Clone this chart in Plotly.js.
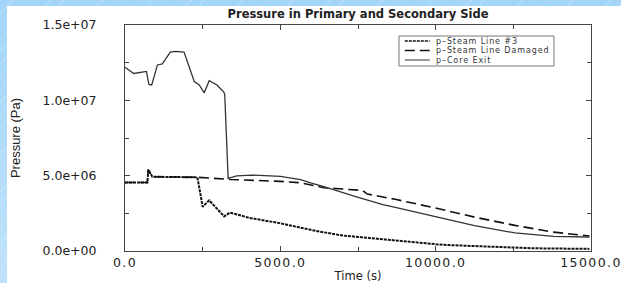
<!DOCTYPE html>
<html>
<head>
<meta charset="utf-8">
<script src="https://cdn.plot.ly/plotly-3.0.1.min.js"></script>
<style>
html, body { margin: 0; padding: 0; }
body {
  width: 621px; height: 283px; overflow: hidden;
  background: repeating-linear-gradient(135deg, rgba(255,255,255,0.18) 0px, rgba(255,255,255,0.18) 1px, rgba(255,255,255,0) 1px, rgba(255,255,255,0) 9px),
              linear-gradient(180deg, #a3d5fa 0%, #bfe2fb 100%);
}
#chart { width: 621px; height: 283px; }
.xtick text { letter-spacing: 1.4px; }
.annotation-text { letter-spacing: 0.9px; }
</style>
</head>
<body>
<div id="chart"></div>
<script>
// ---- Data ----
const seriesNames = ["p\u2013Steam Line #3", "p\u2013Steam Line Damaged", "p\u2013Core Exit"];

const tSteam3 = [0, 720, 750, 880, 2330, 2500, 2710, 3000, 3190, 3380, 4000, 4970, 6150, 7000, 8500, 10000, 10450, 12000, 13150, 14950];
const pSteam3 = [4.55e6, 4.55e6, 5.38e6, 4.93e6, 4.89e6, 2.94e6, 3.36e6, 2.7e6, 2.3e6, 2.55e6, 2.2e6, 1.85e6, 1.33e6, 1.03e6, 0.72e6, 0.45e6, 0.39e6, 0.26e6, 0.18e6, 0.14e6];

const tDamaged = [0, 720, 750, 880, 2330, 3400, 5000, 5650, 6400, 7200, 7650, 7800, 8700, 10000, 11250, 12550, 13800, 14950];
const pDamaged = [4.55e6, 4.55e6, 5.4e6, 4.93e6, 4.89e6, 4.75e6, 4.62e6, 4.53e6, 4.2e6, 4.06e6, 4.02e6, 3.78e6, 3.43e6, 2.85e6, 2.25e6, 1.7e6, 1.25e6, 1.0e6];

const tCore = [0, 280, 690, 770, 860, 1045, 1200, 1460, 1620, 1900, 2230, 2390, 2550, 2710, 2960, 3180, 3210, 3320, 3600, 4100, 5000, 5650, 6000, 6400, 7400, 8300, 8700, 10000, 10450, 11250, 12550, 13800, 14950];
const pCore = [12.2e6, 11.78e6, 11.92e6, 11.05e6, 11.02e6, 12.35e6, 12.42e6, 13.2e6, 13.25e6, 13.2e6, 11.25e6, 11.02e6, 10.5e6, 11.3e6, 11.02e6, 10.55e6, 10.4e6, 4.82e6, 4.98e6, 5.04e6, 4.95e6, 4.73e6, 4.5e6, 4.28e6, 3.62e6, 3.08e6, 2.9e6, 2.27e6, 2.05e6, 1.68e6, 1.2e6, 0.97e6, 0.93e6];

const xTickVals = [0, 5000, 10000, 15000];
const xTickText = ["0.0", "5000.0", "10000.0", "15000.0"];
const xMinorVals = [2500, 7500, 12500];
const yTickVals = [0, 5e6, 1e7, 1.5e7];
const yTickText = ["0.0e+00", "5.0e+06", "1.0e+07", "1.5e+07"];
const yMinorVals = [2.5e6, 7.5e6, 12.5e6];

// ---- Styles ----
const styles = [
  {color: "#111", width: 2.0, dash: "3px,1px"},
  {color: "#111", width: 1.6, dash: "10px,5px"},
  {color: "#333", width: 1.3, dash: "solid"}
];

const traces = [
  {x: tSteam3, y: pSteam3, name: seriesNames[0], mode: "lines", line: styles[0]},
  {x: tDamaged, y: pDamaged, name: seriesNames[1], mode: "lines", line: styles[1]},
  {x: tCore, y: pCore, name: seriesNames[2], mode: "lines", line: styles[2]}
].map(t => Object.assign(t, {showlegend: false, hoverinfo: "skip"}));

// ---- Custom compact legend (paper coordinates) ----
const legRows = [0.9292, 0.8872, 0.8451];
const shapes = [
  {type: "rect", xref: "paper", yref: "paper", x0: -0.2532, x1: 1.1, y0: -0.3, y1: 1.084,
   fillcolor: "#ffffff", line: {width: 0}, layer: "below"},
  {type: "rect", xref: "paper", yref: "paper", x0: 0.588, x1: 0.9206, y0: 0.8186, y1: 0.9513,
   fillcolor: "#ffffff", line: {color: "#777", width: 1}}
];
const annotations = [];
seriesNames.forEach((nm, i) => {
  shapes.push({type: "line", xref: "paper", yref: "paper", x0: 0.6004, x1: 0.6538, y0: legRows[i], y1: legRows[i],
               line: {color: styles[i].color, width: i === 2 ? 1 : 1.4, dash: styles[i].dash}});
  annotations.push({xref: "paper", yref: "paper", x: 0.6645, y: legRows[i], xanchor: "left", yanchor: "middle",
                    borderpad: 0, text: nm, showarrow: false, font: {family: "DejaVu Sans", size: 8, color: "#333"}});
});

const axisCommon = {
  showline: true, linecolor: "#444", linewidth: 1, mirror: "ticks",
  ticks: "inside", ticklen: 5, tickcolor: "#444", tickwidth: 1,
  showgrid: false, zeroline: false, ticklabeloverflow: "allow",
  tickfont: {family: "DejaVu Sans", size: 12.5, color: "#222"}
};

const layout = {
  width: 621, height: 283,
  margin: {l: 125, r: 30, t: 25, b: 32},
  paper_bgcolor: "rgba(0,0,0,0)",
  plot_bgcolor: "#ffffff",
  showlegend: false,
  title: {text: "Pressure in Primary and Secondary Side", xref: "paper", x: 0.5, xanchor: "center",
          yref: "container", y: 0.951, yanchor: "middle",
          font: {family: "DejaVu Sans", size: 11.5, weight: "bold", color: "#222"}},
  xaxis: Object.assign({}, axisCommon, {
    range: [0, 15000], tickmode: "array", tickvals: xTickVals, ticktext: xTickText,
    ticklabelstandoff: 0,
    minor: {tickmode: "array", tickvals: xMinorVals, ticks: "inside", ticklen: 4, tickcolor: "#444"},
    title: {text: "Time (s)", standoff: 8, font: {family: "DejaVu Sans", size: 11.5, color: "#222"}}
  }),
  yaxis: Object.assign({}, axisCommon, {
    range: [0, 1.5e7], tickmode: "array", tickvals: yTickVals, ticktext: yTickText,
    ticklabelstandoff: 25,
    minor: {tickmode: "array", tickvals: yMinorVals, ticks: "inside", ticklen: 4, tickcolor: "#444"},
    title: {text: "Pressure (Pa)", standoff: 18, font: {family: "Liberation Sans Narrow, Liberation Sans", size: 13, color: "#222"}}
  }),
  shapes: shapes,
  annotations: annotations
};

Plotly.newPlot("chart", traces, layout, {staticPlot: true, displayModeBar: false});
</script>
</body>
</html>
